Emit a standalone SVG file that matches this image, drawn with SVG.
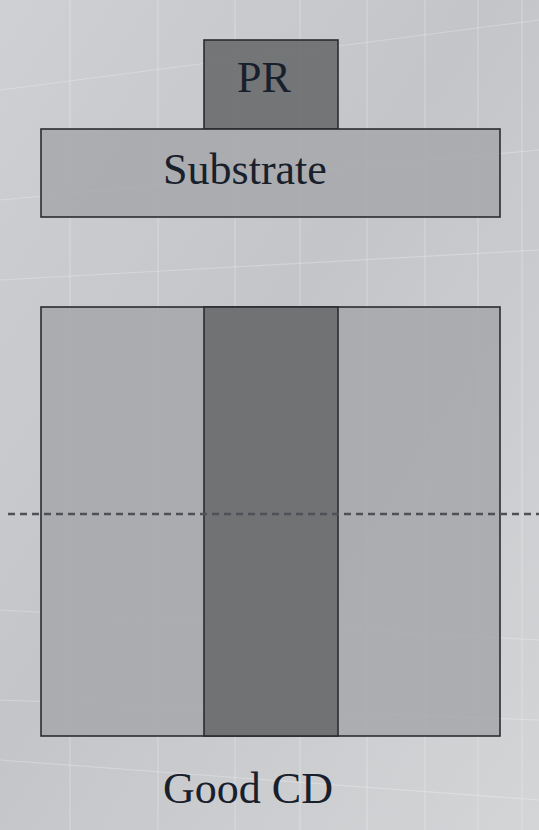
<svg xmlns="http://www.w3.org/2000/svg" width="539" height="830" viewBox="0 0 539 830">
  <style>
    .box { stroke: #2b2c30; stroke-width: 1.6; }
    .light { fill: #a6a7aa; fill-opacity: 0.85; }
    .dark { fill: #6a6b6e; fill-opacity: 0.9; }
    .label { font-family: "Liberation Serif", "Times New Roman", serif; font-size: 44px; fill: #18202c; text-anchor: middle; }
    .grid { stroke: #ffffff; stroke-opacity: 0.25; stroke-width: 1.2; fill: none; }
  </style>
  <defs>
    <linearGradient id="bg" x1="0" y1="0" x2="1" y2="1">
      <stop offset="0" stop-color="#cfd0d3"/>
      <stop offset="0.45" stop-color="#c4c5c8"/>
      <stop offset="1" stop-color="#d3d5d7"/>
    </linearGradient>
  </defs>
  <rect x="0" y="0" width="539" height="830" fill="url(#bg)"/>
  <g id="background-grid">
    <path class="grid" d="M70 0 V830 M158 0 V830 M235 0 V830 M300 0 V830 M367 0 V830 M425 0 V830 M478 0 V830 M522 0 V830"/>
    <path class="grid" d="M0 90 L539 20 M0 200 L539 150 M0 280 L539 250 M0 610 L539 640 M0 700 L539 720 M0 760 L539 800"/>
  </g>
  <g id="pr-top">
    <rect class="box dark" x="204" y="40" width="134" height="89"/>
    <text class="label" x="264" y="92">PR</text>
  </g>
  <g id="substrate">
    <rect class="box light" x="41" y="129" width="459" height="88"/>
    <text class="label" x="245" y="184">Substrate</text>
  </g>
  <g id="topview">
    <rect class="box light" x="41" y="307" width="459" height="429"/>
    <rect class="box dark" x="204" y="307" width="134" height="429"/>
  </g>
  <g id="connectors">
    <line x1="8" y1="514" x2="539" y2="514" stroke="#505156" stroke-width="2.5" stroke-dasharray="7 5"/>
  </g>
  <g id="caption">
    <text class="label" x="248" y="803">Good CD</text>
  </g>
</svg>
